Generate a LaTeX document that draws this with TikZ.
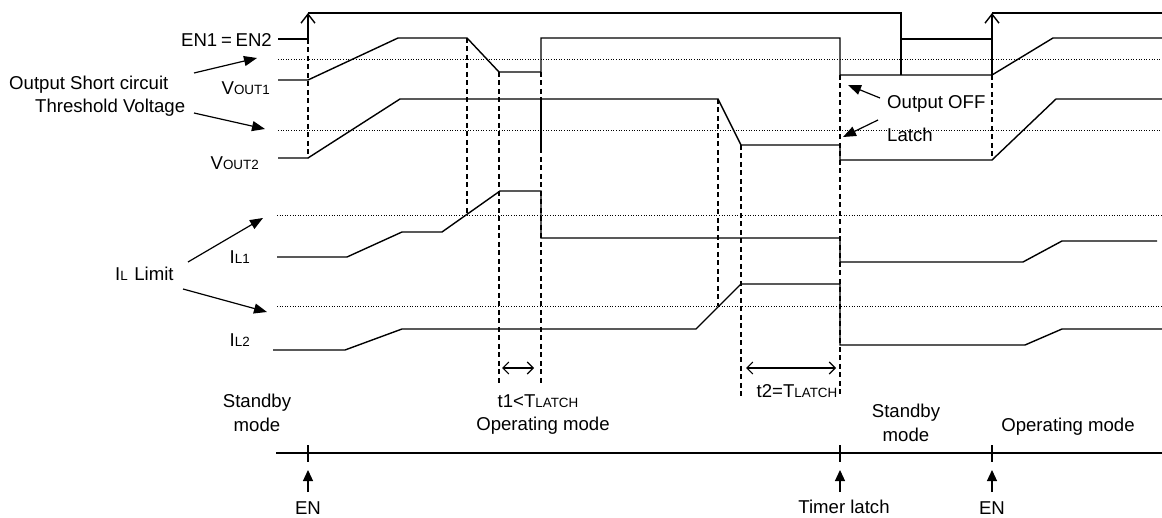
\documentclass[tikz,border=0pt]{standalone}
\usepackage{fontspec}
\setmainfont{Liberation Sans}
\usetikzlibrary{arrows.meta}
\newcommand{\smtxt}[1]{{\fontsize{13.4pt}{15pt}\selectfont #1}}

\begin{document}
\begin{tikzpicture}[
        x=1pt, y=-1pt,
        wave/.style={
            draw=black,
            line width=1.4pt,
            line join=miter
        },
        thresh/.style={
            draw=black,
            line width=0.9pt,
            dash pattern=on 1pt off 1.6pt
        },
        guide/.style={
            draw=black,
            line width=1.2pt,
            dash pattern=on 5pt off 3.5pt
        },
        callout/.style={
            -{Triangle[length=13pt,width=10pt]},
            draw=black,
            line width=1.2pt
        },
        enrise/.style={
            wave,
            -{Straight Barb[length=9pt,width=14pt]}
        },
        span/.style={
            {Straight Barb[length=6pt,width=12pt]}-{Straight Barb[length=6pt,width=12pt]},
            draw=black,
            line width=1.1pt
        },
        event/.style={
            -{Triangle[length=11pt,width=10pt]},
            draw=black,
            line width=1.2pt
        },
        txt/.style={
            inner sep=0pt,
            font=\fontsize{18.6pt}{24pt}\selectfont
        }
    ]
    \useasboundingbox (0,0) rectangle (1162,518);

    % thresholds
    \draw[thresh] (278,59) -- (1162,59);
    \draw[thresh] (278,130) -- (1162,130);
    \draw[thresh] (277,215) -- (1162,215);
    \draw[thresh] (277,306) -- (1162,306);

    % EN1=EN2
    \draw[wave] (278,39) -- (308,39);
    \draw[enrise] (308,39) -- (308,13);
    \draw[wave] (308,13) -- (901,13) -- (901,75);
    \draw[wave] (901,39) -- (992,39);
    \draw[enrise] (992,75) -- (992,13);
    \draw[wave] (992,13) -- (1162,13);

    % VOUT1, VOUT2
    \draw[wave] (278,80) -- (308,80) -- (398,38) -- (467,38) -- (499,72) -- (541,72)
        -- (541,38) -- (840,38) -- (840,75) -- (992,75) -- (1053,38) -- (1162,38);
    \draw[wave] (278,158) -- (308,158) -- (400,99) -- (718,99) -- (741,145) -- (840,145)
        -- (840,160) -- (992,160) -- (1056,99) -- (1162,99);
    \draw[wave] (541,99) -- (541,152);

    % IL1, IL2
    \draw[wave] (277,257) -- (347,257) -- (402,232) -- (442,232) -- (500,191) -- (541,191)
        -- (541,238) -- (840,238) -- (840,262) -- (1023,262) -- (1062,241) -- (1157,241);
    \draw[wave] (273,350) -- (345,350) -- (402,329) -- (696,329) -- (741,284) -- (840,284)
        -- (840,345) -- (1025,345) -- (1062,329) -- (1162,329);

    % guides
    \draw[guide] (308,39) -- (308,158);
    \draw[guide] (467,38) -- (467,215);
    \draw[guide] (499,72) -- (499,383);
    \draw[guide] (541,72) -- (541,383);
    \draw[guide] (718,99) -- (718,306);
    \draw[guide] (741,145) -- (741,398);
    \draw[guide] (840,75) -- (840,395);
    \draw[guide] (992,75) -- (992,160);

    \coordinate (t1a) at (502,368);
    \coordinate (t1b) at (534,368);
    \coordinate (t2a) at (746,368);
    \coordinate (t2b) at (836,368);
    \draw[span] (t1a) -- (t1b);
    \draw[span] (t2a) -- (t2b);

    % signal labels
    \node[txt, anchor=east] (en12) at (272,40) {EN1\hspace{0.2em}=\hspace{0.2em}EN2};
    \node[txt, anchor=east] (vout1) at (270,88) {V\smtxt{OUT1}};
    \node[txt, anchor=east] (vout2) at (259,163) {V\smtxt{OUT2}};
    \node[txt, anchor=east] (il1) at (250,257) {I\smtxt{L1}};
    \node[txt, anchor=east] (il2) at (250,340) {I\smtxt{L2}};

    \node[txt, anchor=west] (short1) at (9,85) {Output Short circuit};
    \node[txt, anchor=west] (short2) at (35,108) {Threshold Voltage};
    \node[txt, anchor=west] (ilim) at (115,274) {I\smtxt{L}\hspace{0.35em}Limit};
    \node[txt, anchor=west] (outoff) at (887,104) {Output OFF};
    \node[txt, anchor=west] (latch) at (887,135) {Latch};

    \coordinate (thr1) at (257,58);
    \coordinate (thr2) at (265,129);
    \coordinate (thr3) at (263,218);
    \coordinate (thr4) at (267,312);
    \coordinate (offtip) at (848,85);
    \coordinate (latchtip) at (843,137);
    \draw[callout] (194,73) -- (thr1);
    \draw[callout] (194,113) -- (thr2);
    \draw[callout] (188,262) -- (thr3);
    \draw[callout] (183,289) -- (thr4);
    \draw[callout] (880,98) -- (offtip);
    \draw[callout] (878,120) -- (latchtip);

    % time labels and mode axis
    \node[txt] (tone) at (538,401) {t1<T\smtxt{LATCH}};
    \node[txt] (ttwo) at (797,391) {t2=T\smtxt{LATCH}};
    \node[txt, align=center] (stby1) at (257,413) {Standby\\mode};
    \node[txt] (oper1) at (543,426) {Operating mode};
    \node[txt, align=center] (stby2) at (906,423) {Standby\\mode};
    \node[txt] (oper2) at (1068,427) {Operating mode};

    \draw[wave] (276,453) -- (1162,453);
    \foreach \tx in {308,840,992}
        \draw[wave] (\tx,445) -- (\tx,462);

    \node[txt] (en1) at (308,508) {EN};
    \node[txt] (tlatch) at (844,507) {Timer latch};
    \node[txt] (en2) at (992,508) {EN};
    \draw[event] (308,492) -- (308,470);
    \draw[event] (840,492) -- (840,470);
    \draw[event] (992,492) -- (992,470);

\end{tikzpicture}
\end{document}
